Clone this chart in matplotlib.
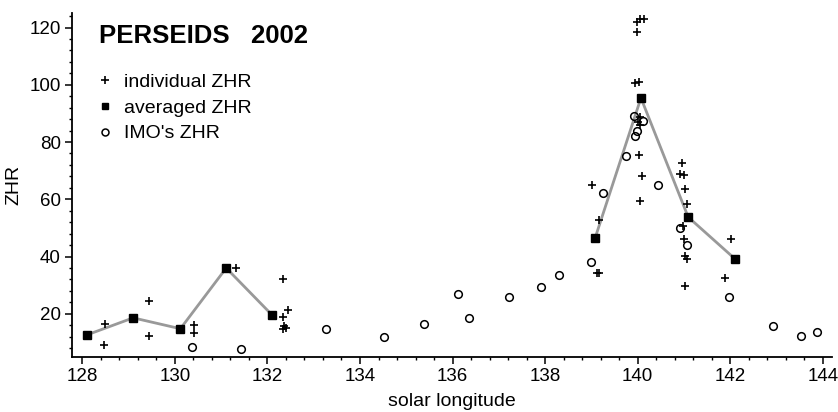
import matplotlib.pyplot as plt
from matplotlib.lines import Line2D
from matplotlib.ticker import MultipleLocator

plt.rcParams['font.family'] = ['Liberation Sans', 'DejaVu Sans']

# individual ZHR (plus markers)
ind_lon = [128.50, 128.48, 129.45, 129.45, 130.42, 130.42, 131.33,
           132.33, 132.44, 132.33, 132.36, 132.40, 132.34,
           139.02, 139.16, 139.13, 139.17,
           139.94, 140.03, 140.05, 140.14, 139.98, 139.99,
           140.05, 140.00, 140.05, 140.02, 140.10, 140.05,
           140.95, 140.92, 141.00, 141.03, 141.06, 140.98, 141.00,
           141.02, 141.06, 141.03, 142.01, 141.89]
ind_zhr = [16.5, 9.0, 24.6, 12.2, 16.0, 13.2, 35.9,
           32.0, 21.4, 19.0, 15.9, 15.0, 14.6,
           65.1, 52.8, 34.2, 34.2,
           100.5, 101.0, 123.0, 123.0, 121.8, 118.4,
           88.9, 87.0, 85.9, 75.6, 68.3, 59.3,
           72.8, 69.0, 68.4, 63.7, 58.3, 50.8, 46.3,
           40.1, 39.0, 29.8, 46.1, 32.5]

# averaged ZHR (squares joined by line), two observing runs
avg_lon_a = [128.11, 129.10, 130.12, 131.11, 132.10]
avg_zhr_a = [12.7, 18.6, 14.8, 36.0, 19.6]
avg_lon_b = [139.08, 140.07, 141.09, 142.10]
avg_zhr_b = [46.5, 95.4, 53.8, 39.2]

# IMO's ZHR (open circles)
imo_lon = [130.37, 131.43, 133.27, 134.52, 135.38, 136.11, 136.35,
           137.22, 137.91, 138.29, 138.99, 139.26, 139.74,
           139.91, 140.12, 139.99, 139.95, 140.43,
           140.92, 141.06, 141.97, 142.93, 143.52, 143.87]
imo_zhr = [8.4, 7.6, 14.6, 11.9, 16.3, 27.0, 18.6,
           25.8, 29.3, 33.7, 38.0, 62.2, 75.2,
           89.1, 87.4, 84.0, 82.0, 65.1,
           50.0, 44.2, 25.8, 15.7, 12.4, 13.6]

fig = plt.figure(figsize=(8.38, 4.12), dpi=100)
ax = fig.add_axes([0.086, 0.134, 0.907, 0.834])

for lon, zhr in [(avg_lon_a, avg_zhr_a), (avg_lon_b, avg_zhr_b)]:
    ax.plot(lon, zhr, color='#999999', linewidth=2, zorder=2)
    ax.plot(lon, zhr, linestyle='none', marker='s', markersize=5.3,
            color='black', zorder=3)

ax.plot(ind_lon, ind_zhr, linestyle='none', marker='+', markersize=6.2,
        markeredgewidth=1.2, color='black', zorder=4)
ax.plot(imo_lon, imo_zhr, linestyle='none', marker='o', markersize=5.5,
        markeredgewidth=1.1, markerfacecolor='none', color='black', zorder=4)

ax.set_xlim(127.78, 144.2)
ax.set_ylim(5, 125)
ax.xaxis.set_major_locator(MultipleLocator(2))
ax.xaxis.set_minor_locator(MultipleLocator(0.4))
ax.yaxis.set_major_locator(MultipleLocator(20))
ax.yaxis.set_minor_locator(MultipleLocator(4))
ax.spines['top'].set_visible(False)
ax.spines['right'].set_visible(False)
for s in ['left', 'bottom']:
    ax.spines[s].set_linewidth(1.3)
ax.tick_params(which='major', length=5, width=1.1, labelsize=13.5, pad=3)
ax.tick_params(which='minor', length=2.5, width=1.0)
ax.set_yticks([20, 40, 60, 80, 100, 120])

ax.set_xlabel('solar longitude', fontsize=14, labelpad=6)
ax.set_ylabel('ZHR', fontsize=14, labelpad=5)

ax.text(0.035, 0.935, 'PERSEIDS   2002', transform=ax.transAxes,
        fontsize=18.5, fontweight='bold', va='center', ha='left')

handles = [
    Line2D([], [], linestyle='none', marker='+', markersize=6,
           markeredgewidth=1.2, color='black'),
    Line2D([], [], linestyle='none', marker='s', markersize=4,
           color='black'),
    Line2D([], [], linestyle='none', marker='o', markersize=5,
           markeredgewidth=1.1, markerfacecolor='none', color='black'),
]
ax.legend(handles, ['individual ZHR', 'averaged ZHR', "IMO's ZHR"],
          loc='upper left', bbox_to_anchor=(0.02, 0.848), frameon=False,
          fontsize=14, handlelength=1.0, handletextpad=0.5,
          labelspacing=0.42, borderaxespad=0)

fig.savefig('out.png', dpi=100)
